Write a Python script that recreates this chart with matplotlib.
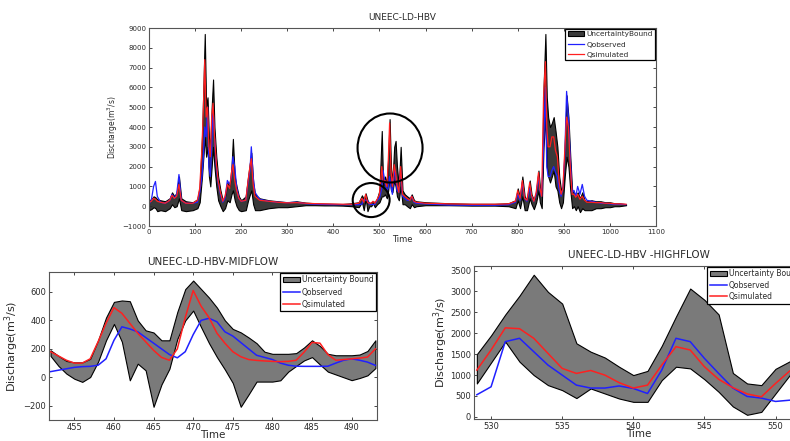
import numpy as np
import matplotlib
matplotlib.use("Agg")
import matplotlib.pyplot as plt
from matplotlib.patches import Ellipse

# ---- serie completa (panel superior) ----
t_all = [0, 5, 10, 14, 18, 25, 35, 45, 50, 55,
         60, 65, 70, 80, 95, 105, 110, 115, 118, 121,
         124, 127, 130, 133, 136, 139, 142, 146, 150, 155,
         160, 165, 170, 175, 179, 182, 186, 190, 195, 200,
         210, 215, 219, 222, 226, 230, 240, 260, 280, 300,
         320, 340, 360, 380, 400, 420, 440, 455, 462, 466,
         470, 474, 478, 482, 486, 490, 495, 500, 505, 508,
         512, 516, 519, 522, 525, 528, 532, 535, 538, 542,
         546, 550, 555, 560, 566, 570, 575, 580, 600, 650,
         700, 750, 780, 795, 800, 805, 810, 815, 820, 826,
         830, 835, 840, 845, 848, 852, 856, 860, 863, 866,
         870, 874, 878, 882, 886, 890, 894, 898, 902, 906,
         910, 914, 918, 922, 926, 930, 935, 940, 945, 950,
         960, 970, 980, 990, 1000, 1010, 1020, 1035]
up_all = [300, 350, 500, 450, 350, 300, 250, 400, 700, 500,
          700, 1500, 400, 250, 200, 350, 1000, 3500, 6000, 8700,
          5000, 5500, 3500, 3000, 5000, 6400, 4000, 2500, 1500, 800,
          300, 500, 1200, 1000, 2000, 3400, 1500, 1000, 500, 300,
          500, 1500, 2200, 2700, 1200, 600, 400, 300, 250, 200,
          250, 180, 150, 130, 120, 110, 150, 200, 550, 350,
          650, 300, 150, 200, 250, 200, 400, 800, 3800, 1000,
          1500, 1200, 2500, 4400, 2000, 1200, 3000, 3300, 2000, 1000,
          3000, 800, 600, 500, 400, 600, 300, 250, 200, 150,
          120, 120, 150, 300, 900, 400, 1500, 500, 300, 1300,
          600, 300, 700, 1800, 1000, 600, 6000, 8700, 5500, 4500,
          4000, 4200, 4500, 3800, 3000, 1500, 800, 1000, 3000, 5600,
          4500, 2500, 800, 700, 500, 700, 400, 700, 300, 250,
          300, 250, 250, 200, 200, 150, 150, 100]
obs_all = [100, 300, 1000, 1250, 500, 200, 150, 300, 600, 400,
           600, 1600, 300, 150, 150, 200, 700, 1500, 2500, 4000,
           3500, 5000, 2000, 1500, 3000, 5000, 3500, 2000, 1200, 600,
           200, 400, 1300, 1100, 1500, 2500, 2000, 1000, 400, 250,
           300, 1200, 1800, 3000, 1500, 700, 350, 250, 200, 180,
           200, 130, 100, 90, 80, 80, 80, 80, 100, 350,
           300, 300, 100, 100, 80, 100, 300, 400, 900, 1800,
           1200, 800, 900, 1500, 1000, 600, 1800, 1500, 800, 700,
           1800, 500, 400, 300, 300, 500, 200, 150, 120, 60,
           50, 50, 80, 200, 600, 300, 1200, 400, 250, 900,
           500, 250, 600, 1500, 800, 500, 3000, 6000, 2000, 1500,
           1500, 1800, 2000, 1700, 1500, 800, 500, 900, 2500, 5800,
           4500, 2500, 700, 800, 500, 1000, 600, 1100, 500, 300,
           250, 200, 150, 150, 120, 100, 100, 80]
sim_all = [200, 250, 400, 350, 250, 200, 150, 300, 550, 400,
           500, 1100, 300, 150, 150, 300, 900, 3000, 5000, 7400,
           4500, 5000, 3000, 2500, 4500, 5200, 3600, 2200, 1300, 700,
           250, 500, 1100, 900, 1700, 2100, 1300, 800, 400, 250,
           300, 1300, 2000, 2400, 1100, 500, 300, 250, 200, 170,
           180, 150, 130, 120, 110, 100, 100, 150, 400, 200,
           600, 200, 150, 150, 250, 150, 350, 600, 2000, 1200,
           1300, 1000, 2200, 4200, 1800, 1000, 2100, 1700, 1100, 700,
           2000, 600, 500, 400, 300, 500, 250, 200, 150, 120,
           100, 100, 120, 250, 800, 400, 1300, 400, 300, 1200,
           550, 250, 700, 1700, 900, 500, 5500, 7300, 4000, 3000,
           3000, 3500, 3500, 2800, 2500, 1200, 600, 900, 2800, 4500,
           4000, 2000, 600, 600, 450, 600, 350, 500, 300, 200,
           200, 180, 180, 150, 150, 120, 120, 100]
lo_all = [-200, -150, -50, -100, -250, -200, -250, -100, 100, -50,
          0, 400, -200, -250, -200, -100, 200, 1500, 2500, 3500,
          2500, 3000, 1500, 1000, 2000, 3000, 2000, 1000, 300, 0,
          -250, -100, 300, 200, 600, 800, 300, 0, -200, -250,
          -200, 300, 600, 800, 100, -200, -200, -100, -50, -50,
          0, 50, 50, 40, 40, 30, 0, -50, 200, -200,
          400, -250, 0, 0, 150, -50, 100, 200, 500, 500,
          600, 400, 800, 1500, 800, 700, 1300, 1000, 500, 300,
          1000, 100, 100, 0, -100, 100, -50, 0, 50, 50,
          30, 30, 0, -100, 300, -100, 500, -200, -200, 400,
          100, -150, 200, 800, 200, -100, 3000, 4500, 2000, 1500,
          1200, 1500, 1800, 1000, 800, 200, -100, 200, 1500, 2500,
          2000, 800, -100, 0, -200, 0, -300, -100, -200, -200,
          -200, -100, -100, -50, -50, 0, 0, 50]

# ---- caudal medio (452..493) ----
t_mid = list(range(452, 494))
up_mid = [190, 150, 115, 105, 105, 130, 260, 420, 530, 540,
          535, 400, 330, 315, 260, 260, 460, 620, 680, 620,
          560, 490, 400, 340, 316, 280, 240, 180, 165, 165,
          165, 170, 210, 260, 220, 165, 155, 155, 155, 160,
          185, 260]
lo_mid = [150, 80, 26, -10, -32, 2, 110, 260, 375, 250,
          -21, 96, 49, -207, -50, 60, 270, 400, 469, 352,
          240, 142, 55, -40, -207, -120, -30, -30, -30, -21,
          40, 80, 119, 142, 90, 40, 20, 0, -20, -5,
          14, 65]
sim_mid = [180, 150, 120, 100, 100, 130, 250, 380, 490, 450,
           380, 310, 250, 190, 140, 120, 200, 420, 610, 500,
           420, 310, 240, 180, 145, 125, 119, 115, 112, 110,
           112, 120, 177, 245, 240, 160, 120, 125, 130, 135,
           142, 200]
obs_mid = [40, 50, 60, 70, 75, 77, 85, 130, 260, 355,
           340, 320, 280, 240, 200, 160, 137, 180, 300, 400,
           415, 390, 320, 290, 245, 200, 155, 140, 125, 100,
           85, 78, 77, 77, 77, 78, 100, 120, 130, 120,
           107, 84]

# ---- caudal alto (529..552) ----
t_high = list(range(529, 553))
up_high = [1500, 1950, 2450, 2900, 3400, 2990, 2710, 1760, 1560, 1420,
           1200, 1000, 1100, 1700, 2400, 3070, 2800, 2450, 1050, 800,
           760, 1150, 1330, 1400]
lo_high = [800, 1300, 1800, 1320, 1000, 760, 640, 450, 680, 560,
           440, 360, 360, 880, 1200, 1160, 900, 600, 250, 50,
           120, 560, 1000, 1100]
sim_high = [1120, 1600, 2130, 2110, 1880, 1520, 1160, 1040, 1110, 1000,
            820, 690, 760, 1240, 1680, 1600, 1200, 900, 700, 550,
            480, 800, 1100, 1150]
obs_high = [530, 720, 1800, 1880, 1560, 1240, 1000, 760, 690, 690,
            740, 680, 560, 1120, 1880, 1800, 1400, 1040, 690, 490,
            450, 370, 400, 420]

TXT = "#2a2a2a"


def panel(ax, t, lo, up, obs, sim, fs, lw_line, leg_fs, labels,
          band="#7a7a7a", lsp=0.3):
    ax.fill_between(t, lo, up, facecolor=band, edgecolor="black",
                    lw=0.8, label=labels[0])
    ax.plot(t, obs, color="#2020ff", lw=lw_line, label=labels[1])
    ax.plot(t, sim, color="#ff2020", lw=lw_line, label=labels[2])
    ax.tick_params(direction="in", top=True, right=True, labelsize=fs,
                   length=2.5, width=0.6, colors=TXT, pad=2)
    for s in ax.spines.values():
        s.set_color("#555555")
        s.set_linewidth(0.8)
    leg = ax.legend(loc="upper right", fontsize=leg_fs, fancybox=False,
                    framealpha=1, edgecolor="black", borderpad=0.35,
                    handlelength=2.2, handletextpad=0.3, labelspacing=lsp,
                    borderaxespad=0.1)
    leg.get_frame().set_linewidth(0.9)
    for tx in leg.get_texts():
        tx.set_color(TXT)


fig = plt.figure(figsize=(7.9, 4.41), dpi=100)

# panel superior
ax1 = fig.add_axes([0.1886, 0.4875, 0.6418, 0.449])
panel(ax1, t_all, lo_all, up_all, obs_all, sim_all, 5, 0.9, 5.3,
      ["UncertaintyBound", "Qobserved", "Qsimulated"],
      band="#3a3a3a", lsp=0.55)
ax1.set_xlim(0, 1100)
ax1.set_ylim(-1000, 9000)
ax1.set_xticks(range(0, 1101, 100))
ax1.set_yticks(range(-1000, 9001, 1000))
ax1.set_title("UNEEC-LD-HBV", fontsize=6.5, color=TXT, pad=6)
ax1.set_xlabel("Time", fontsize=6, color=TXT, labelpad=0)
ax1.set_ylabel("Discharge(m$^3$/s)", fontsize=5.5, color=TXT, labelpad=2)
ax1.add_patch(Ellipse((523, 2940), 141, 3485, fill=False, ec="black",
                      lw=1.5, clip_on=False, zorder=5))
ax1.add_patch(Ellipse((482, 310), 80, 1720, fill=False, ec="black",
                      lw=1.5, clip_on=False, zorder=5))

# caudal medio
ax2 = fig.add_axes([0.062, 0.0476, 0.4152, 0.3356])
panel(ax2, t_mid, lo_mid, up_mid, obs_mid, sim_mid, 6, 1.1, 5.5,
      ["Uncertainty Bound", "Qobserved", "Qsimulated"], lsp=0.4)
ax2.set_xlim(451.8, 493.2)
ax2.set_ylim(-300, 740)
ax2.set_xticks(range(455, 491, 5))
ax2.set_yticks([-200, 0, 200, 400, 600])
ax2.set_title("UNEEC-LD-HBV-MIDFLOW", fontsize=7.5, color=TXT, pad=5)
ax2.set_xlabel("Time", fontsize=7.5, color=TXT, labelpad=-1)
ax2.set_ylabel("Discharge(m$^3$/s)", fontsize=8, color=TXT, labelpad=2)

# caudal alto (recortado a la derecha, como en el original)
ax3 = fig.add_axes([0.6, 0.0499, 0.4177, 0.347])
panel(ax3, t_high, lo_high, up_high, obs_high, sim_high, 6, 1.1, 5.5,
      ["Uncertainty Bound", "Qobserved", "Qsimulated"], lsp=0.3)
ax3.set_xlim(528.8, 552)
ax3.set_ylim(-50, 3610)
ax3.set_xticks(range(530, 551, 5))
ax3.set_yticks(range(0, 3501, 500))
ax3.set_title("UNEEC-LD-HBV -HIGHFLOW", fontsize=7.5, color=TXT, pad=6)
ax3.set_xlabel("Time", fontsize=7.5, color=TXT, labelpad=-1)
ax3.set_ylabel("Discharge(m$^3$/s)", fontsize=8, color=TXT, labelpad=0)

fig.savefig("out.png", dpi=100)
